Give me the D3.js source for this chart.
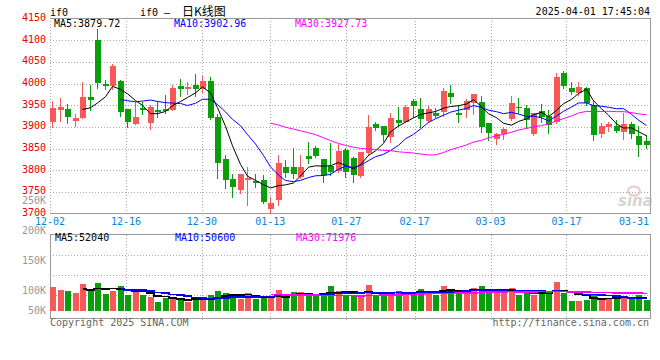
<!DOCTYPE html>
<meta charset="utf-8">
<title>if0 日K线图</title>
<style>
  body { margin: 0; background: #fff; }
  svg { display: block; font-family: "DejaVu Sans Mono", monospace; font-size: 10px; }
</style>
<body>
<script src="https://d3js.org/d3.v7.min.js"></script>
<script>
// trading days shown, 12-02 .. 04-01
const dates = ("12-02 12-03 12-04 12-05 12-06 12-09 12-10 12-11 12-12 12-13 " +
  "12-16 12-17 12-18 12-19 12-20 12-23 12-24 12-25 12-26 12-27 12-30 12-31 " +
  "01-02 01-03 01-06 01-07 01-08 01-09 01-10 01-13 01-14 01-15 01-16 01-17 " +
  "01-20 01-21 01-22 01-23 01-24 01-27 02-05 02-06 02-07 02-10 02-11 02-12 " +
  "02-13 02-14 02-17 02-18 02-19 02-20 02-21 02-24 02-25 02-26 02-27 02-28 " +
  "03-03 03-04 03-05 03-06 03-07 03-10 03-11 03-12 03-13 03-14 03-17 03-18 " +
  "03-19 03-20 03-21 03-24 03-25 03-26 03-27 03-28 03-31 04-01").split(" ");

const open = [3911.9, 3938.7, 3940.3, 3914.2, 3921.1, 3968.7, 4100.0, 3999.4, 3994.0, 4005.6,
  3941.0, 3907.3, 3944.1, 3908.8, 3938.7, 3941.0, 3938.7, 3994.0, 3986.4, 3995.6,
  3986.4, 4006.3, 3922.6, 3825.8, 3779.8, 3754.4, 3777.5, 3774.4, 3777.5, 3709.9,
  3731.4, 3807.4, 3807.4, 3783.6, 3832.8, 3851.2, 3825.8, 3809.7, 3798.2, 3846.6,
  3828.9, 3786.7, 3840.4, 3905.7, 3901.9, 3877.3, 3915.7, 3911.9, 3960.2, 3940.3,
  3914.2, 3932.6, 3934.9, 3978.7, 3932.6, 3938.7, 3955.6, 3957.2, 3908.0, 3871.2,
  3883.4, 3917.2, 3945.7, 3942.6, 3883.4, 3936.4, 3924.9, 3911.9, 4024.8, 3988.7,
  3978.7, 3988.7, 3949.5, 3883.4, 3900.3, 3901.9, 3888.8, 3906.5, 3878.8, 3868.1];
const high = [3960.2, 3966.4, 3951.8, 3929.5, 4003.2, 3996.3, 4125.4, 4007.9, 4045.5, 4007.9,
  3941.0, 3957.9, 3957.9, 3950.3, 3960.2, 3972.5, 3996.3, 4010.2, 4002.5, 4021.7,
  4017.8, 4014.0, 3930.3, 3835.0, 3791.3, 3791.3, 3808.2, 3791.3, 3788.2, 3739.1,
  3835.0, 3823.5, 3850.4, 3834.3, 3864.2, 3855.8, 3825.8, 3863.5, 3860.4, 3850.4,
  3831.2, 3841.2, 3926.5, 3911.9, 3901.9, 3931.1, 3946.4, 3950.3, 3964.8, 3965.6,
  3948.0, 3942.6, 3988.7, 3996.3, 3950.3, 3963.3, 3975.6, 3971.0, 3908.0, 3885.0,
  3900.3, 3971.0, 3965.6, 3950.3, 3932.6, 3952.6, 3938.7, 4023.2, 4029.4, 4004.0,
  4004.0, 3992.5, 3961.8, 3908.0, 3911.9, 3915.7, 3932.6, 3911.9, 3901.9, 3881.1];
const low = [3900.3, 3914.2, 3909.6, 3902.6, 3920.0, 3938.7, 3989.4, 3986.4, 3986.4, 3924.9,
  3900.3, 3907.3, 3928.8, 3895.0, 3923.4, 3931.1, 3938.7, 3971.0, 3976.4, 3971.8,
  3979.4, 3917.2, 3782.1, 3758.3, 3739.1, 3746.8, 3719.9, 3762.1, 3723.7, 3700.7,
  3719.9, 3785.1, 3781.3, 3781.3, 3815.9, 3829.7, 3773.6, 3788.2, 3796.7, 3785.1,
  3773.6, 3785.1, 3835.0, 3892.7, 3868.1, 3865.8, 3901.9, 3911.9, 3923.4, 3900.3,
  3911.9, 3923.4, 3924.9, 3954.1, 3911.9, 3921.8, 3929.5, 3888.8, 3869.6, 3859.6,
  3871.2, 3915.7, 3931.1, 3896.5, 3881.1, 3911.9, 3885.0, 3908.0, 3988.7, 3975.6,
  3973.3, 3950.3, 3869.6, 3875.8, 3890.4, 3888.8, 3871.2, 3873.5, 3832.8, 3852.0];
const close = [3942.6, 3944.9, 3923.4, 3920.3, 3968.7, 3962.6, 4000.2, 3994.8, 4040.1, 3934.9,
  3911.1, 3922.6, 3938.7, 3944.9, 3934.9, 3936.4, 3989.4, 3986.4, 3991.7, 3987.1,
  4005.6, 3919.5, 3817.4, 3777.5, 3761.3, 3791.3, 3782.9, 3769.8, 3726.8, 3724.5,
  3816.6, 3792.8, 3791.3, 3807.4, 3826.6, 3832.0, 3789.0, 3795.9, 3844.3, 3795.1,
  3788.2, 3841.2, 3900.3, 3898.0, 3881.1, 3920.3, 3909.6, 3944.9, 3948.0, 3918.8,
  3940.3, 3924.9, 3982.5, 3967.9, 3928.0, 3960.2, 3975.6, 3900.3, 3886.5, 3883.4,
  3895.0, 3954.1, 3943.3, 3915.7, 3931.1, 3923.4, 3904.2, 4014.0, 3994.0, 3981.0,
  3991.0, 3954.1, 3881.1, 3901.9, 3906.5, 3890.4, 3906.5, 3883.4, 3858.1, 3858.1];
// volume, in thousands of lots
const volume = [95.1, 83.1, 79.1, 72.4, 108.5, 79.1, 112.6, 68.3, 80.4, 99.2,
  63.0, 87.1, 63.0, 54.9, 34.8, 50.9, 54.9, 46.9, 37.5, 46.9,
  42.9, 63.0, 79.1, 71.0, 63.0, 49.6, 71.0, 46.9, 52.3, 52.3,
  83.1, 52.3, 75.0, 75.0, 63.0, 61.6, 71.0, 99.2, 79.1, 65.7,
  63.0, 65.7, 103.2, 65.7, 63.0, 60.3, 79.1, 75.0, 75.0, 87.1,
  79.1, 65.7, 99.2, 87.1, 75.0, 83.1, 91.1, 99.2, 87.1, 75.0,
  75.0, 91.1, 63.0, 75.0, 63.0, 75.0, 75.0, 115.2, 72.4, 38.9,
  38.9, 42.9, 69.7, 50.9, 46.9, 46.9, 53.6, 52.3, 63.0, 45.6];

const xTicks = ["12-02", "12-16", "12-30", "01-13", "01-27", "02-17", "03-03", "03-17", "03-31"];
const priceTicks = [4150, 4100, 4050, 4000, 3950, 3900, 3850, 3800, 3750, 3700];
const volTicks = [250, 200, 150, 100, 50];
const maPeriods = [5, 10, 30];
const maColors = ["#000000", "#0000ff", "#ff00ff"];
const priceMaText = ["MA5:3879.72", "MA10:3902.96", "MA30:3927.73"];
const volMaText = ["MA5:52040", "MA10:50600", "MA30:71976"];

const RED = "#f85858", GREEN = "#0a9e0a", GRID = "#a8a8a8";

const svg = d3.select("body").append("svg")
  .attr("width", 660).attr("height", 360);
svg.append("rect").attr("width", 660).attr("height", 360).attr("fill", "#fff");

// candle band scale and the (slightly wider) date-grid scale
const x = d3.scaleBand().domain(d3.range(dates.length)).range([50, 650])
  .paddingInner(0.2).paddingOuter(0);
const xg = d3.scaleLinear().domain([0, dates.length - 1]).range([50, 650]);
const y = d3.scaleLinear().domain([3700, 4150]).range([213.5, 18.5]);
const yv = d3.scaleLinear().domain([0, 300]).range([311, 236.4]);
// volume panel frame, split in four
const yvf = d3.scaleLinear().domain([0, 4]).range([235.5, 315.5]);
// where sina puts the volume labels
const yvl = d3.scaleLinear().domain([100, 250]).range([293.5, 203.5]);

const px = i => Math.round(x(i));
const cx = i => Math.round(x(i)) + 2.5;

// ---------- grid ----------
const grid = svg.append("g").attr("stroke", GRID).attr("stroke-dasharray", "1,2")
  .attr("shape-rendering", "crispEdges");
grid.selectAll(".hg").data(priceTicks.slice(1, -1)).join("line")
  .attr("x1", 50).attr("x2", 650)
  .attr("y1", d => Math.round(y(d)) + 0.5).attr("y2", d => Math.round(y(d)) + 0.5);
const vx = xTicks.map(t => xg(dates.indexOf(t))).filter(v => v < 640);
grid.selectAll(".vg").data(vx).join("line")
  .attr("x1", d => Math.round(d) + 0.5).attr("x2", d => Math.round(d) + 0.5)
  .attr("y1", 18).attr("y2", 214);
grid.selectAll(".vgv").data(vx.slice(1)).join("line")
  .attr("x1", d => Math.round(d) + 0.5).attr("x2", d => Math.round(d) + 0.5)
  .attr("y1", 235).attr("y2", 320);
grid.selectAll(".hgv").data([1, 2, 3]).join("line")
  .attr("x1", 50).attr("x2", 650)
  .attr("y1", d => Math.round(yvf(d)) - 0.5).attr("y2", d => Math.round(yvf(d)) - 0.5);

// frames
const frame = svg.append("g").attr("stroke", "#999").attr("fill", "none")
  .attr("shape-rendering", "crispEdges");
frame.append("path").attr("d", `M50,18.5H650.5V213.5H50`);
frame.append("rect").attr("x", 50.5).attr("y", 234.5).attr("width", 600).attr("height", 83.5);

// ---------- candles ----------
const idx = d3.range(dates.length);
const cg = svg.append("g").attr("shape-rendering", "crispEdges");
cg.selectAll("line").data(idx).join("line")
  .attr("x1", cx).attr("x2", cx)
  .attr("y1", i => Math.round(y(high[i]))).attr("y2", i => Math.round(y(low[i])) + 1)
  .attr("stroke", i => close[i] >= open[i] ? RED : GREEN);
cg.selectAll("rect").data(idx).join("rect")
  .attr("x", px).attr("width", 6)
  .attr("y", i => Math.round(y(Math.max(open[i], close[i]))))
  .attr("height", i => Math.max(1, Math.round(y(Math.min(open[i], close[i]))) - Math.round(y(Math.max(open[i], close[i])))))
  .attr("fill", i => close[i] >= open[i] ? RED : GREEN);

// ---------- volume ----------
svg.append("g").attr("shape-rendering", "crispEdges")
  .selectAll("rect").data(idx).join("rect")
  .attr("x", px).attr("width", 6)
  .attr("y", i => Math.round(yv(volume[i])))
  .attr("height", i => 311 - Math.round(yv(volume[i])))
  .attr("fill", i => close[i] >= open[i] ? RED : GREEN);

// moving averages
function movingAvg(arr, n) {
  return arr.map((v, i) => i < n - 1 ? null : d3.mean(arr.slice(i - n + 1, i + 1)));
}
maPeriods.forEach((n, k) => {
  const pm = movingAvg(close, n);
  const pts = idx.filter(i => pm[i] !== null);
  svg.append("path")
    .attr("d", d3.line().x(i => cx(i)).y(i => y(pm[i]))(pts))
    .attr("fill", "none").attr("stroke", maColors[k]).attr("stroke-width", 1);
  const vm = movingAvg(volume, n);
  svg.append("path")
    .attr("d", d3.line().x(i => cx(i)).y(i => yv(vm[i])).curve(d3.curveStep)(pts))
    .attr("fill", "none").attr("stroke", maColors[k]).attr("stroke-width", 1.6)
    .attr("shape-rendering", "crispEdges");
});

// ---------- text ----------
svg.append("g").attr("fill", "#e60000").attr("text-anchor", "end")
  .selectAll("text").data(priceTicks).join("text")
  .attr("x", 46).attr("y", d => y(d) + 2.5).text(d => d);

svg.append("g").attr("fill", "#999").attr("text-anchor", "end")
  .selectAll("text").data(volTicks).join("text")
  .attr("x", 46).attr("y", d => Math.min(yvl(d), 313.5)).text(d => d + "K");

svg.append("g").attr("fill", "#0a84dc").attr("text-anchor", "middle")
  .selectAll("text").data(xTicks).join("text")
  .attr("x", d => Math.min(xg(dates.indexOf(d)), 634)).attr("y", 225).text(d => d);

const maX = [54, 174, 295];
svg.append("g").selectAll("text").data(priceMaText).join("text")
  .attr("x", (d, k) => maX[k]).attr("y", 27).attr("fill", (d, k) => maColors[k]).text(d => d);
svg.append("g").selectAll("text").data(volMaText).join("text")
  .attr("x", (d, k) => maX[k] + 1).attr("y", 241).attr("fill", (d, k) => maColors[k]).text(d => d);

svg.append("text").attr("x", 50).attr("y", 16).text("if0");
const title = svg.append("text").attr("x", 140).attr("y", 16);
title.append("tspan").text("if0 \u2013");
title.append("tspan").attr("x", 182).style("font-family", "'Noto Sans CJK SC'")
  .style("font-size", "12px").text("日K线图");
svg.append("text").attr("x", 650).attr("y", 15).attr("text-anchor", "end")
  .text("2025-04-01 17:45:04");

svg.append("text").attr("x", 50).attr("y", 326).attr("fill", "#666")
  .text("Copyright 2025 SINA.COM");
svg.append("text").attr("x", 649).attr("y", 326).attr("fill", "#666")
  .attr("text-anchor", "end").text("http://finance.sina.com.cn");

// sina watermark
const wm = svg.append("g").attr("opacity", 0.6);
wm.append("ellipse").attr("cx", 634).attr("cy", 191).attr("rx", 6).attr("ry", 4.5)
  .attr("fill", "none").attr("stroke", "#e4a0a0").attr("stroke-width", 2);
wm.append("text").attr("x", 618).attr("y", 206)
  .style("font-family", "'DejaVu Sans'").style("font-size", "15px")
  .style("font-style", "italic").style("font-weight", "bold")
  .attr("fill", "#b8b8b8").text("sina");
</script>
</body>
